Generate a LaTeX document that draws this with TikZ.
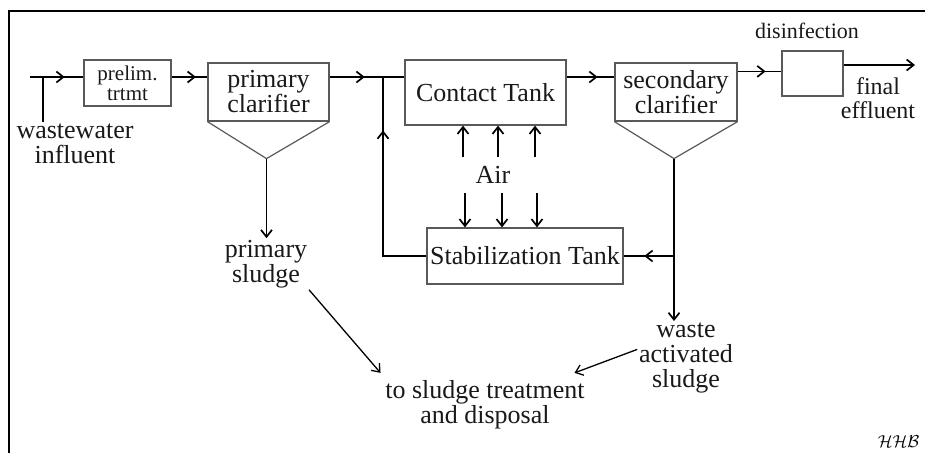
\documentclass[tikz,border=0pt]{standalone}
\usepackage{fontspec}
\setmainfont{Liberation Serif}
\usetikzlibrary{arrows.meta,calc,decorations.markings}

\begin{document}
\begin{tikzpicture}[x=1pt,y=-1pt,line width=1.7pt,
    >={Straight Barb[length=7pt,width=11pt]},
    tank/.style={draw=black!65,line width=1.2pt,inner sep=0pt,text=black!90},
    txt/.style={align=center,inner sep=1pt,text=black!90,font=\fontsize{26}{25}\selectfont},
    small/.style={align=center,inner sep=1pt,text=black!90,font=\fontsize{21}{20}\selectfont},
    flow/.style={postaction={decorate},decoration={markings,
      mark=at position #1 with {\arrow{>}}}}]
  \useasboundingbox (0,0) rectangle (925,453);
  \draw[line width=1.2pt] (9,453) -- (9,11) -- (925,11);

  % tanks
  \node[tank,small,minimum width=87pt,minimum height=46pt] (prelim) at (127.5,83) {prelim.\\trtmt};
  \node[tank,txt,minimum width=121pt,minimum height=58pt] (pc) at (268.5,92) {primary\\clarifier};
  \node[tank,txt,minimum width=161pt,minimum height=65pt] (contact) at (485.5,92.5) {Contact Tank};
  \node[tank,txt,minimum width=122pt,minimum height=58pt] (sc) at (676,92) {secondary\\clarifier};
  \node[tank,minimum width=61pt,minimum height=45pt] (dis) at (812.5,73.5) {};
  \node[tank,txt,minimum width=196pt,minimum height=56pt] (stab) at (525,256) {Stabilization Tank};

  % hoppers under the clarifiers
  \coordinate (pcapex) at ($(pc.south)+(-2,37)$);
  \coordinate (scapex) at ($(sc.south)+(-2,37)$);
  \draw[draw=black!65,line width=1.2pt] (pc.south west) -- (pcapex) -- (pc.south east);
  \draw[draw=black!65,line width=1.2pt] (sc.south west) -- (scapex) -- (sc.south east);

  % labels
  \node[small,font=\fontsize{22}{20}\selectfont] (disl) at (807,31) {disinfection};
  \node[txt,font=\fontsize{24}{24}\selectfont] (fe) at (878,98) {final\\effluent};
  \node[txt] (ww) at (75,144) {wastewater\\influent};
  \node[txt] (psl) at (266,264) {primary\\sludge};
  \node[txt] (air) at (493,175) {Air};
  \node[txt] (was) at (686,358) {waste\\activated\\sludge};
  \node[txt] (disp) at (485,405) {to sludge treatment\\and disposal};
  \node[anchor=base west,inner sep=0pt,font=\fontsize{18}{18}\selectfont] (sig) at (877,447) {$\mathcal{HHB}$};

  % main flow
  \coordinate (in) at (30,77);
  \coordinate (tap) at (43,77);
  \coordinate (junc) at (383,77);
  \draw[flow=0.65] (in) -- (in -| prelim.west);
  \draw (tap) -- (tap |- ww.north);
  \draw[flow=0.68] (in -| prelim.east) -- (in -| pc.west);
  \draw[flow=0.47] (in -| pc.east) -- (in -| contact.west);
  \draw[flow=0.65] (in -| contact.east) -- (in -| sc.west);
  \coordinate (sd) at ($(sc.north east)+(0,9)$);
  \draw[flow=0.64] (sd) -- (sd -| dis.west);
  \coordinate (out) at (915,65);
  \draw[->] (out -| dis.east) -- (out);

  % recycle and sludge lines
  \draw[flow=0.76] (stab.west) -| (junc);
  \draw[flow=0.59] (scapex |- stab.east) -- (stab.east);
  \draw[->] (pcapex) -- (pcapex |- psl.north);
  \draw[->] (scapex) -- (scapex |- was.north);
  \draw[->,line width=1.3pt] (psl.south east) -- ($(disp.north west)+(-3,-6)$);
  \draw[->,line width=1.3pt] (was.170) -- ($(disp.north east)+(-12,-6)$);

  % air supply
  \foreach \x [count=\i] in {463,498,535} {
    \coordinate (up\i) at (\x,157);
    \draw[->] (up\i) -- (up\i |- contact.south);
  }
  \foreach \x [count=\i] in {465,502,537} {
    \coordinate (dn\i) at (\x,193);
    \draw[->] (dn\i) -- (dn\i |- stab.north);
  }
\end{tikzpicture}
\end{document}
